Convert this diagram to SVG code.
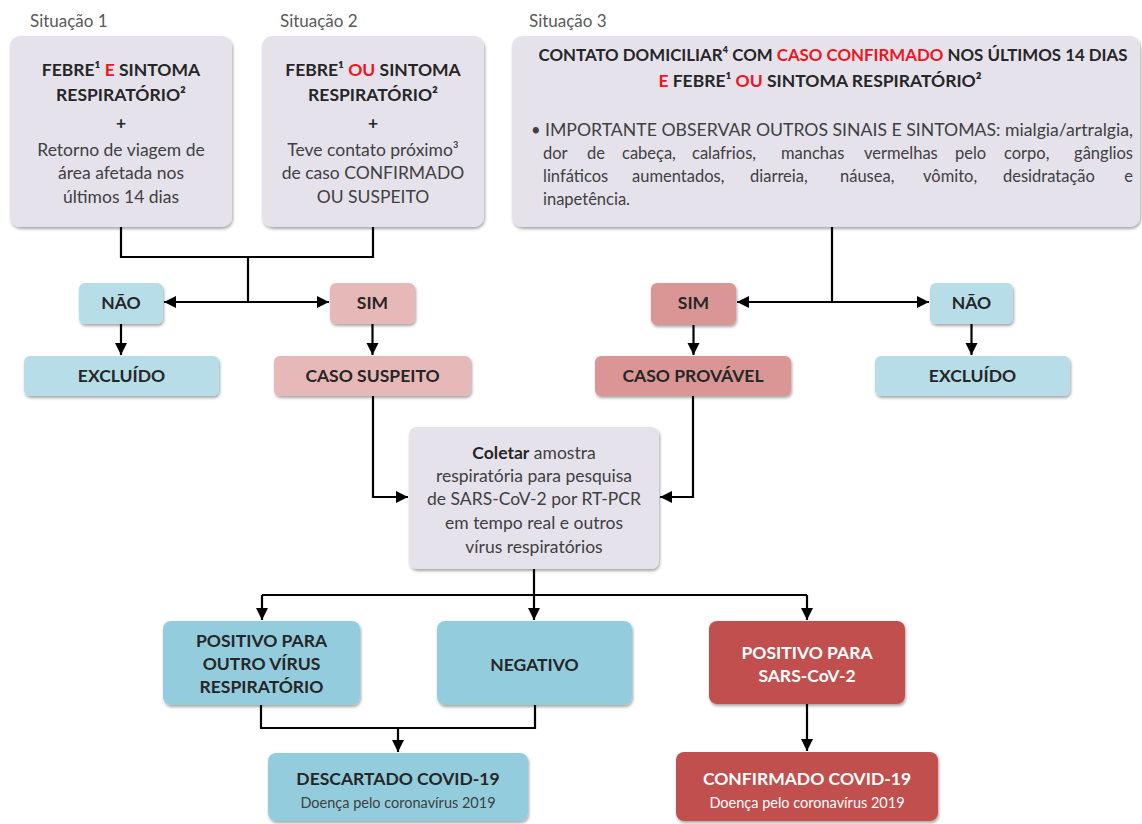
<svg xmlns="http://www.w3.org/2000/svg" width="1142" height="824" viewBox="0 0 1142 824">
<defs>
<filter id="sh" x="-5%" y="-5%" width="110%" height="120%">
<feDropShadow dx="1" dy="2" stdDeviation="1.6" flood-color="#000" flood-opacity="0.35"/>
</filter>
<marker id="ah" markerUnits="userSpaceOnUse" markerWidth="13" markerHeight="13" refX="12" refY="6" orient="auto">
<path d="M0,0 L12,6 L0,12 z" fill="#000"/>
</marker>
<style>
.lab{font-family:Lato,"Liberation Sans",sans-serif;font-size:17px;fill:#595959}
.box{filter:url(#sh)}
.lav{fill:#e6e2ec}
.lb{fill:#b7dde8}
.pk{fill:#e6b9b8}
.pk2{fill:#d99694}
.mb{fill:#93cddd}
.rd{fill:#c0504d}
.b{font-family:Lato,"Liberation Sans",sans-serif;font-weight:bold;font-size:17.5px;fill:#262626;text-anchor:middle}
.r{font-family:Lato,"Liberation Sans",sans-serif;font-size:17.5px;fill:#404040;text-anchor:middle}
.s{font-family:Lato,"Liberation Sans",sans-serif;font-size:14.5px;fill:#404040;text-anchor:middle}
.w{fill:#ffffff}
.red{fill:#f0141e}
.bl{font-family:Lato,"Liberation Sans",sans-serif;font-size:16.5px;fill:#404040}
.end{text-anchor:end}
.c{fill:none;stroke:#000;stroke-width:2.2}
</style>
</defs>
<rect width="1142" height="824" fill="#ffffff"/>

<text class="lab" x="30" y="27">Situação 1</text>
<text class="lab" x="280" y="27">Situação 2</text>
<text class="lab" x="529" y="27">Situação 3</text>

<g id="situacao1">
<rect class="box lav" x="10" y="36" width="222" height="191" rx="10"/>
<text class="b" x="121" y="76">FEBRE¹ <tspan class="red">E</tspan> SINTOMA</text>
<text class="b" x="121" y="101">RESPIRATÓRIO²</text>
<text class="b" x="121" y="129" font-size="20">+</text>
<text class="r" x="121" y="156">Retorno de viagem de</text>
<text class="r" x="121" y="179">área afetada nos</text>
<text class="r" x="121" y="203">últimos 14 dias</text>
</g>

<g id="situacao2">
<rect class="box lav" x="262" y="36" width="222" height="191" rx="10"/>
<text class="b" x="373" y="76">FEBRE¹ <tspan class="red">OU</tspan> SINTOMA</text>
<text class="b" x="373" y="101">RESPIRATÓRIO²</text>
<text class="b" x="373" y="129" font-size="20">+</text>
<text class="r" x="373" y="156">Teve contato próximo³</text>
<text class="r" x="373" y="179">de caso CONFIRMADO</text>
<text class="r" x="373" y="203">OU SUSPEITO</text>
</g>

<g id="situacao3">
<rect class="box lav" x="512" y="36" width="628" height="191" rx="10"/>
<text class="b" x="833" y="61" textLength="589" lengthAdjust="spacingAndGlyphs">CONTATO DOMICILIAR⁴ COM <tspan class="red">CASO CONFIRMADO</tspan> NOS ÚLTIMOS 14 DIAS</text>
<text class="b" x="820" y="87" font-size="15.5"><tspan class="red">E</tspan> FEBRE¹ <tspan class="red">OU</tspan> SINTOMA RESPIRATÓRIO²</text>
<text class="bl" x="531" y="136">•</text>
<text class="bl" x="545" y="136" textLength="588" lengthAdjust="spacingAndGlyphs">IMPORTANTE OBSERVAR OUTROS SINAIS E SINTOMAS: mialgia/artralgia,</text>
<text class="bl" y="159"><tspan x="543">dor</tspan><tspan x="587">de</tspan><tspan x="622">cabeça,</tspan><tspan x="692">calafrios,</tspan><tspan x="781">manchas</tspan><tspan x="864">vermelhas</tspan><tspan x="955">pelo</tspan><tspan x="1004">corpo,</tspan></text>
<text class="bl end" x="1133" y="159">gânglios</text>
<text class="bl" y="182"><tspan x="543">linfáticos</tspan><tspan x="632">aumentados,</tspan><tspan x="750">diarreia,</tspan><tspan x="840">náusea,</tspan><tspan x="923">vômito,</tspan><tspan x="1003">desidratação</tspan></text>
<text class="bl end" x="1133" y="182">e</text>
<text class="bl" x="543" y="205">inapetência.</text>
</g>

<g id="nao1">
<rect class="box lb" x="79" y="283" width="84" height="41" rx="6"/>
<text class="b" x="121" y="309">NÃO</text>
</g>
<g id="sim1">
<rect class="box pk" x="330" y="283" width="85" height="41" rx="6"/>
<text class="b" x="372.5" y="309">SIM</text>
</g>
<g id="excluido1">
<rect class="box lb" x="24" y="356" width="195" height="40" rx="6"/>
<text class="b" x="121.5" y="382">EXCLUÍDO</text>
</g>
<g id="caso-suspeito">
<rect class="box pk" x="274" y="356" width="197" height="40" rx="6"/>
<text class="b" x="372.5" y="382">CASO SUSPEITO</text>
</g>

<g id="sim2">
<rect class="box pk2" x="651" y="283" width="85" height="42" rx="6"/>
<text class="b" x="693.5" y="309">SIM</text>
</g>
<g id="nao2">
<rect class="box lb" x="930" y="283" width="83" height="41" rx="6"/>
<text class="b" x="971.5" y="309">NÃO</text>
</g>
<g id="caso-provavel">
<rect class="box pk2" x="595" y="356" width="196" height="40" rx="6"/>
<text class="b" x="693" y="382">CASO PROVÁVEL</text>
</g>
<g id="excluido2">
<rect class="box lb" x="875" y="356" width="195" height="40" rx="6"/>
<text class="b" x="972.5" y="382">EXCLUÍDO</text>
</g>

<g id="coletar">
<rect class="box lav" x="409" y="427" width="250" height="142" rx="8"/>
<text class="r" x="534" y="459"><tspan font-weight="bold" fill="#262626">Coletar</tspan> amostra</text>
<text class="r" x="534" y="482">respiratória para pesquisa</text>
<text class="r" x="534" y="505">de SARS-CoV-2 por RT-PCR</text>
<text class="r" x="534" y="529">em tempo real e outros</text>
<text class="r" x="534" y="553">vírus respiratórios</text>
</g>

<g id="positivo-outro">
<rect class="box mb" x="163" y="621" width="197" height="84" rx="8"/>
<text class="b" x="261.5" y="647">POSITIVO PARA</text>
<text class="b" x="261.5" y="670">OUTRO VÍRUS</text>
<text class="b" x="261.5" y="693">RESPIRATÓRIO</text>
</g>
<g id="negativo">
<rect class="box mb" x="437" y="621" width="195" height="84" rx="8"/>
<text class="b" x="534.5" y="671">NEGATIVO</text>
</g>
<g id="positivo-sars">
<rect class="box rd" x="709" y="621" width="196" height="83" rx="8"/>
<text class="b w" x="807" y="659">POSITIVO PARA</text>
<text class="b w" x="807" y="682">SARS-CoV-2</text>
</g>
<g id="descartado">
<rect class="box mb" x="268" y="753" width="260" height="68" rx="8"/>
<text class="b" x="398" y="785">DESCARTADO COVID-19</text>
<text class="s" x="398" y="808">Doença pelo coronavírus 2019</text>
</g>
<g id="confirmado">
<rect class="box rd" x="676" y="752" width="262" height="69" rx="8"/>
<text class="b w" x="807" y="785">CONFIRMADO COVID-19</text>
<text class="s w" x="807" y="808">Doença pelo coronavírus 2019</text>
</g>

<g id="connectors">
<path class="c" d="M121,227 V257 H373 V227"/>
<path class="c" d="M248,257 V302"/>
<path class="c" d="M248,302 H164" marker-end="url(#ah)"/>
<path class="c" d="M248,302 H329" marker-end="url(#ah)"/>
<path class="c" d="M121,324 V355" marker-end="url(#ah)"/>
<path class="c" d="M372.5,324 V355" marker-end="url(#ah)"/>
<path class="c" d="M832,227 V302"/>
<path class="c" d="M832,302 H737" marker-end="url(#ah)"/>
<path class="c" d="M832,302 H929" marker-end="url(#ah)"/>
<path class="c" d="M693.5,325 V355" marker-end="url(#ah)"/>
<path class="c" d="M971.5,324 V355" marker-end="url(#ah)"/>
<path class="c" d="M373,396 V497 H408" marker-end="url(#ah)"/>
<path class="c" d="M693,396 V497 H660" marker-end="url(#ah)"/>
<path class="c" d="M534,569 V620" marker-end="url(#ah)"/>
<path class="c" d="M262,595 H807"/>
<path class="c" d="M262,595 V620" marker-end="url(#ah)"/>
<path class="c" d="M807,595 V620" marker-end="url(#ah)"/>
<path class="c" d="M261,705 V728 H535 V705"/>
<path class="c" d="M398,728 V752" marker-end="url(#ah)"/>
<path class="c" d="M807,704 V751" marker-end="url(#ah)"/>
</g>
</svg>
